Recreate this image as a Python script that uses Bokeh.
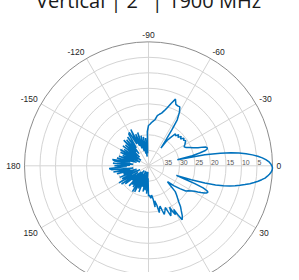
import numpy as np
from bokeh.plotting import figure
from bokeh.models import Range1d, ColumnDataSource
from bokeh.core.properties import value
from bokeh.embed import file_html
from bokeh.resources import INLINE

TITLE = "Vertical | 2° | 1900 MHz"
ANGLE_TICKS = [-150, -120, -90, -60, -30, 0, 30, 60, 90, 120, 150, 180]
ANGLE_LABELS = ["-150", "-120", "-90", "-60", "-30", "0", "30", "60", "90", "120", "150", "180"]
RADIAL_TICKS = [35, 30, 25, 20, 15, 10, 5]
R_MAX = 40  # attenuation (dB) at the centre

# pattern: angle (deg) and attenuation below peak (dB)
ANGLES = [-180, -178, -176, -174, -172, -170, -168, -166, -164, -162, -160, -158, -156, -154,
          -152, -150, -148, -146, -144, -142, -140, -138, -136, -134, -132, -130, -128, -126,
          -124, -122, -120, -118, -116, -114, -112, -110, -108, -106, -104, -102, -100, -98,
          -96, -94, -92,
          -90, -88, -86, -84, -82, -80, -78, -76, -74, -72, -70, -68, -66,
          -64, -62, -60, -58, -57, -56, -55, -54, -52, -50, -48, -46, -44, -42, -40, -38,
          -36, -34, -32, -30, -28, -26, -24, -22, -20, -19, -18, -17, -16, -15, -14, -13,
          -12, -11, -10, -9, -8, -7, -6, -5, -4, -3, -2, -1, 0, 1, 2, 3, 4, 5, 6, 7, 8, 9,
          10, 11, 12, 13, 14, 15, 16, 17, 18, 19, 20, 21, 22, 23, 24, 25, 26, 27, 28, 29,
          30, 32, 34, 36, 38, 40, 42, 44, 46, 48, 50, 52, 54, 56, 58, 59, 60, 61, 62, 63,
          64, 66, 67, 68, 70, 72, 73, 74, 76, 77, 78, 80, 81, 82, 84, 86, 88, 90,
          92, 94, 96, 98, 100, 102, 104, 106, 108, 110, 112, 114, 116, 118, 120, 122, 124,
          126, 128, 130, 132, 134, 136, 138, 140, 142, 144, 146, 148, 150, 152, 154, 156,
          158, 160, 162, 164, 166, 168, 170, 172, 174, 176, 178, 180]
ATTEN = [29, 34, 28.5, 35, 29, 28.2, 34, 29.5, 36, 30, 35, 31, 37, 30,
         35, 29.5, 36, 30.5, 37, 29.5, 35, 30, 36, 28.5, 34, 29, 35, 28.5,
         33, 28, 27.6, 32, 27, 33, 29, 34, 28.7, 35, 30, 36, 30.5, 37,
         31, 36, 29,
         27, 26.6, 26, 25.5, 25, 23.6, 23, 22.5, 21.5, 20.2, 18.5, 16.8, 18.3,
         18.5, 18.5, 20, 22.5, 26, 30, 33, 30, 28.5, 26.5, 27, 26, 26.8, 25.8, 26.5, 25.5,
         26, 25.5, 26, 26.5, 27, 26.5, 25.5, 24.5, 23, 21.5, 20.5, 20.2, 20.3, 21, 23, 25.5,
         30.5, 21.5, 16.5, 13, 10.5, 8.3, 6.3, 4.6, 3.2, 2.1, 1.2, 0.6, 0.2, 0, 0.1, 0.4, 0.9, 1.5, 2.2, 3.2, 4.3, 5.5,
         6.8, 8.3, 9.8, 11.3, 13, 15, 17.5, 21, 25.5, 30.5, 28, 24, 21, 19.6, 19, 19.3, 20, 21, 22, 23,
         23.8, 24.8, 25.5, 27.5, 29.5, 32, 30.5, 28, 27, 26, 24.8, 23.2, 22, 20.5, 19.5, 21.5, 23.7, 22, 23, 25,
         23.5, 22.3, 24, 25.5, 24.5, 23.5, 25, 26.5, 25.5, 24.5, 27, 28.5, 26.5, 29, 30.5, 29.5, 30.5, 30.3,
         36, 31, 38, 32, 37, 31.5, 38, 33, 36, 31, 37, 32, 38, 30.5, 35, 30.2, 37,
         31.5, 36, 32, 38, 31, 36, 33, 37, 30.5, 35, 29.5, 36, 29, 34, 30.5, 37,
         30, 35, 31.5, 36, 29.5, 34, 28.5, 35, 28, 27.3, 33, 29]
assert len(ANGLES) == len(ATTEN)

W, H = 299, 280
S = 3.1                 # pixels per dB
CX, CY = 156.0, 173.3   # centre in canvas pixels

BLUE = "#0072BD"
GRID = "#d4d4d4"
OUTER = "#8c8c8c"
TXT = "#262626"

p = figure(width=W, height=H, output_backend="svg", toolbar_location=None,
           x_range=Range1d(-CX / S, (W - CX) / S), y_range=Range1d(-(H - CY) / S, CY / S),
           x_axis_type=None, y_axis_type=None, min_border=0, outline_line_color=None,
           background_fill_color="white", border_fill_color="white",
           margin=(-8, -8, -8, -8))
p.grid.visible = False

# rings
ring_r = [R_MAX - t for t in RADIAL_TICKS]
p.circle(x=[0] * len(ring_r), y=[0] * len(ring_r), radius=ring_r, fill_color=None,
         line_color=GRID, line_width=1)
# spokes
sx, sy = [], []
for a in ANGLE_TICKS[:6]:
    t = np.deg2rad(a)
    sx.append([-R_MAX * np.cos(t), R_MAX * np.cos(t)])
    sy.append([R_MAX * np.sin(t), -R_MAX * np.sin(t)])
p.multi_line(xs=sx, ys=sy, line_color=GRID, line_width=1)
# outer circle
p.circle(x=[0], y=[0], radius=[R_MAX], fill_color=None, line_color=OUTER, line_width=1)

# radial labels
p.text(x=[R_MAX - t + 0.15 for t in RADIAL_TICKS], y=[0.35] * len(RADIAL_TICKS),
       text=[str(t) for t in RADIAL_TICKS], text_font=value("Liberation Sans"),
       text_font_size="7px", text_color="#595959", text_align="left", text_baseline="bottom")

# angle labels (only those that fall inside the picture)
lr = 128 / S
lx, ly, la, lb, lt = [], [], [], [], []
for a, lab in zip(ANGLE_TICKS, ANGLE_LABELS):
    t = np.deg2rad(a)
    c, s = np.cos(t), np.sin(t)
    if CY + 128 * s > H - 12:
        continue
    lx.append(lr * c)
    ly.append(-lr * s)
    lt.append(lab)
    la.append("left" if c > 0.3 else ("right" if c < -0.3 else "center"))
    lb.append("bottom" if s < -0.3 else ("top" if s > 0.3 else "middle"))
src = ColumnDataSource(dict(x=lx, y=ly, text=lt, align=la, base=lb))
p.text(x="x", y="y", text="text", text_align="align", text_baseline="base", source=src,
       text_font=value("Liberation Sans"), text_font_size="8.5px", text_color=TXT)

# pattern
th = np.deg2rad(np.array(ANGLES, dtype=float))
rr = np.clip(R_MAX - np.array(ATTEN, dtype=float), 0, None)
p.line(x=rr * np.cos(th), y=-rr * np.sin(th), line_color=BLUE, line_width=1.5)

# title (cut by the top edge, as in the reference)
p.text(x=[0], y=[(CY - 8) / S], text=[TITLE], text_font=value("Open Sans"),
       text_font_size="20px", text_color="#1a1a1a", text_align="center",
       text_baseline="alphabetic")

open("out.html", "w").write(file_html(p, INLINE))
